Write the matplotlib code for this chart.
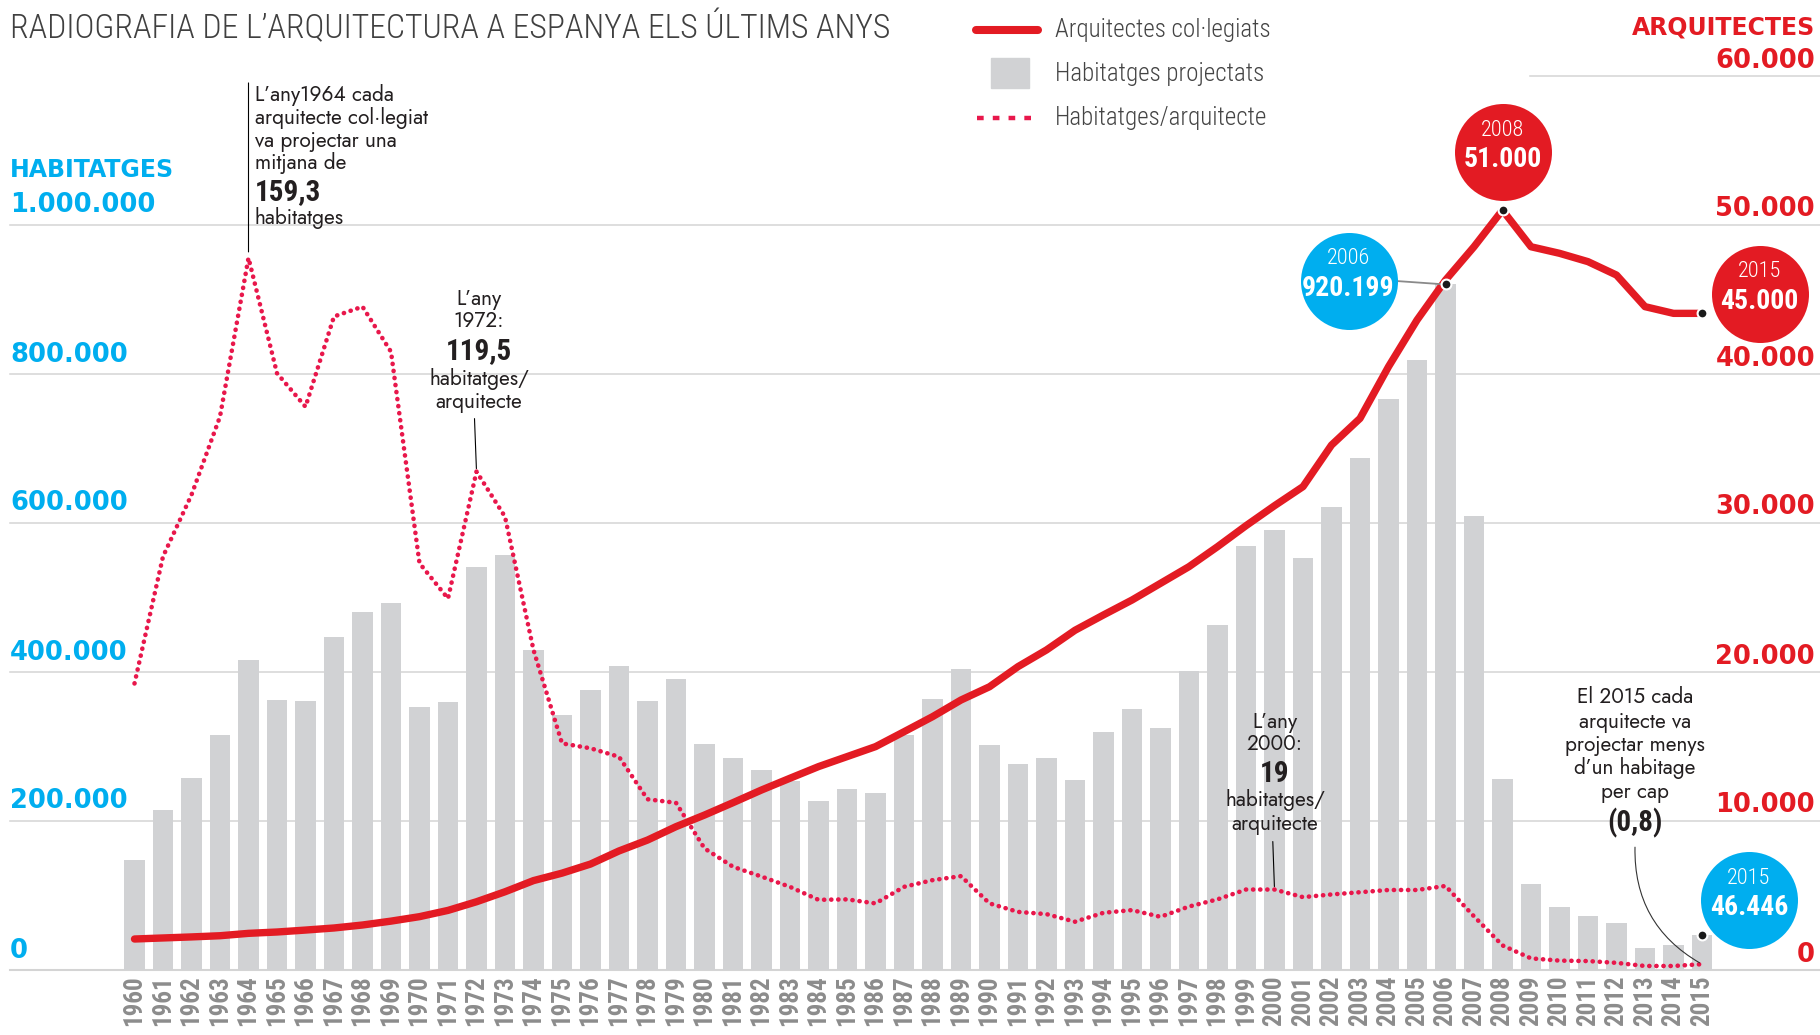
import matplotlib
matplotlib.use('Agg')
import matplotlib.pyplot as plt
from matplotlib.transforms import offset_copy

years = list(range(1960, 2016))
habitatges = [147000, 215000, 258000, 316000, 416000, 363000, 361000, 447000, 481000, 493000,
              353000, 360000, 541000, 557000, 429000, 342000, 376000, 408000, 361000, 391000,
              304000, 284000, 269000, 254000, 227000, 243000, 238000, 316000, 364000, 404000,
              302000, 277000, 284000, 255000, 319000, 351000, 325000, 402000, 463000, 569000,
              590000, 553000, 622000, 687000, 767000, 819000, 920199, 609000, 257000, 115000,
              85000, 72000, 63000, 29000, 34000, 46446]
arquitectes = [2080, 2150, 2220, 2300, 2460, 2550, 2680, 2820, 3020, 3280,
               3580, 4000, 4580, 5250, 6000, 6500, 7110, 7990, 8720, 9620,
               10400, 11230, 12080, 12870, 13650, 14320, 14990, 15990, 17000, 18120,
               19010, 20360, 21480, 22800, 23830, 24830, 25950, 27070, 28410, 29820,
               31160, 32440, 35230, 37020, 40490, 43620, 46300, 48540, 51000, 48540,
               48100, 47540, 46640, 44520, 44070, 44070]
per_arquitecte = [64.1, 92.5, 106.3, 123.8, 159.3, 133.5, 126.0, 146.2, 148.4, 138.3,
                  91.0, 83.1, 111.5, 101.4, 71.6, 50.7, 49.6, 47.7, 38.2, 37.4,
                  27.2, 23.1, 20.9, 18.6, 15.7, 15.8, 14.9, 18.6, 20.1, 21.0,
                  14.9, 13.0, 12.5, 10.8, 12.8, 13.4, 11.9, 14.2, 15.8, 18.0,
                  18.0, 16.3, 16.9, 17.4, 17.9, 17.9, 18.8, 12.0, 5.5, 2.6,
                  2.1, 2.0, 1.6, 0.9, 0.9, 1.3]

left_ticks = [0, 200000, 400000, 600000, 800000, 1000000]
left_labels = ['0', '200.000', '400.000', '600.000', '800.000', '1.000.000']
right_ticks = [0, 10000, 20000, 30000, 40000, 50000, 60000]
right_labels = ['0', '10.000', '20.000', '30.000', '40.000', '50.000', '60.000']

RED = '#e31b23'
PINK = '#e8174b'
CYAN = '#00aeef'
BAR = '#d1d2d4'
GRID = '#d4d4d4'
TXT = '#231f20'
COND = 'Roboto Condensed'
BOLD = 'DejaVu Sans'
BOOK = 'Jost'


def pt(px):
    # pixels to points at dpi 100
    return px * 0.72


fig = plt.figure(figsize=(18.2, 10.35), dpi=100)
ax = fig.add_axes([0, 65 / 1035, 1, 894 / 1035])
x0 = 1960 - 134.5 / 28.5
ax.set_xlim(x0, x0 + 1820 / 28.5)
ax.set_ylim(0, 1200000)
ax_r = ax.twinx()
ax_r.set_ylim(0, 200)
ax_a = ax.twinx()
ax_a.set_ylim(0, 60000)
for a in (ax, ax_r, ax_a):
    for s in a.spines.values():
        s.set_visible(False)
    a.set_yticks([])
ax.tick_params(axis='x', length=0, pad=pt(5))

# grid
for v in left_ticks[1:]:
    ax.axhline(v, xmin=10 / 1820, color=GRID, lw=1.1, zorder=0)
ax.axhline(1200000, xmin=1530 / 1820, color=GRID, lw=1.1, zorder=0, clip_on=False)
ax.axhline(0, xmin=10 / 1820, color=GRID, lw=1.5, zorder=0, clip_on=False)

ax.bar(years, habitatges, width=0.73, color=BAR, zorder=1)
ax.set_xticks(years)
ax.set_xticklabels([str(y) for y in years], rotation=90, va='top', ha='center',
                   fontsize=18, fontweight='bold', color='#8c8c8c', family=COND)

ax_a.plot(years, arquitectes, color=RED, lw=5.3, solid_joinstyle='round', solid_capstyle='round', zorder=3)
ax_r.plot(years, per_arquitecte, color=PINK, lw=3.3, linestyle=(0, (0.05, 1.5)),
          dash_capstyle='round', zorder=4)

# axis labels
ytr = ax.get_yaxis_transform()
for v, lab in zip(left_ticks, left_labels):
    ax_a.annotate(lab, xy=(10 / 1820, v), xycoords=ytr, xytext=(0, pt(19.5)), textcoords='offset points',
                  ha='left', va='center', color=CYAN, fontsize=18.5, fontweight='bold', family=BOLD)
ax_a.annotate('HABITATGES', xy=(10 / 1820, 1000000), xycoords=ytr, xytext=(0, pt(55)),
              textcoords='offset points', ha='left', va='center', color=CYAN, fontsize=17,
              fontweight='bold', family=BOLD)
ytr_a = ax_a.get_yaxis_transform()
for v, lab in zip(right_ticks, right_labels):
    ax_a.annotate(lab, xy=(1815 / 1820, v), xycoords=ytr_a, xytext=(0, pt(15.5)), textcoords='offset points',
                  ha='right', va='center', color=RED, fontsize=18.5, fontweight='bold', family=BOLD)
ax_a.annotate('ARQUITECTES', xy=(1815 / 1820, 60000), xycoords=ytr_a, xytext=(0, pt(48)),
              textcoords='offset points', ha='right', va='center', color=RED, fontsize=17,
              fontweight='bold', family=BOLD)

# title and legend
fig.text(10 / 1820, 1 - 28 / 1035, 'RADIOGRAFIA DE L’ARQUITECTURA A ESPANYA ELS ÚLTIMS ANYS',
         ha='left', va='center', fontsize=24.3, color='#404040', family=COND, fontweight='light')
fig.add_artist(plt.Line2D([976 / 1820, 1038 / 1820], [1 - 30 / 1035] * 2, color=RED, lw=5.8,
                          solid_capstyle='round'))
fig.add_artist(plt.Rectangle((991 / 1820, 1 - 88 / 1035), 38 / 1820, 30 / 1035, color=BAR))
fig.add_artist(plt.Line2D([977 / 1820, 1032 / 1820], [1 - 118 / 1035] * 2, color=PINK, lw=3.2,
                          linestyle=(0, (1.5, 2.05))))
for yy, lab in [(30, 'Arquitectes col·legiats'), (74, 'Habitatges projectats'), (118, 'Habitatges/arquitecte')]:
    fig.text(1055 / 1820, 1 - yy / 1035, lab, ha='left', va='center', fontsize=18, color='#444444',
             family=COND, fontweight='light')

# circles
circles = [(ax_a, 2008, arquitectes[48], 0, 58, RED, '2008', '51.000'),
           (ax, 2006, habitatges[46], -97, 3.5, CYAN, '2006', '920.199'),
           (ax_a, 2015, arquitectes[55], 57.5, 19.5, RED, '2015', '45.000'),
           (ax, 2015, habitatges[55], 47, 35, CYAN, '2015', '46.446')]
for a, xv, yv, dx, dy, col, top, val in circles:
    if col == CYAN and xv == 2006:
        ax_a.annotate('', xy=(xv, yv), xycoords=a.transData, xytext=(pt(dx + 47), pt(dy)),
                      textcoords='offset points',
                      arrowprops=dict(arrowstyle='-', color='#8a8a8a', lw=1.3, shrinkA=0, shrinkB=0))
    tr = offset_copy(a.transData, fig=fig, x=pt(dx), y=pt(dy), units='points')
    ax_a.scatter([xv], [yv], s=(pt(97)) ** 2, color=col, transform=tr, zorder=6, linewidths=0)
    ax_a.annotate(top, xy=(xv, yv), xycoords=a.transData, xytext=(pt(dx), pt(dy + 22)),
                  textcoords='offset points', ha='center', va='center', color='white', fontsize=16,
                  family=COND, fontweight='light', zorder=7)
    ax_a.annotate(val, xy=(xv, yv), xycoords=a.transData, xytext=(pt(dx), pt(dy - 7.5)),
                  textcoords='offset points', ha='center', va='center', color='white', fontsize=20,
                  family=COND, fontweight='bold', zorder=7)
    ax_a.scatter([xv], [yv], s=50, color='#1a1a1a', edgecolors='white', linewidths=1.5,
                 transform=a.transData, zorder=8)


def note(a, xv, yv, dx, lines, ha='center'):
    for dy, txt, bold in lines:
        ax_a.annotate(txt, xy=(xv, yv), xycoords=a.transData, xytext=(pt(dx), pt(dy)),
                      textcoords='offset points', ha=ha, va='center', color=TXT,
                      fontsize=21 if bold else 15, fontweight='bold' if bold else 'normal',
                      family=COND if bold else BOOK, zorder=7)


def stem(a, xv, yv, dx, top, bottom):
    ax_a.annotate('', xy=(xv, yv), xycoords=a.transData, xytext=(pt(dx), pt(top)),
                  textcoords='offset points',
                  arrowprops=dict(arrowstyle='-', color='black', lw=0.8,
                                  shrinkA=0, shrinkB=pt(bottom)))


note(ax_r, 1964, per_arquitecte[4], 6.5, [(163, 'L’any1964 cada', False), (140, 'arquitecte col·legiat', False),
                                          (117, 'va projectar una', False), (95, 'mitjana de', False),
                                          (66, '159,3', True), (40, 'habitatges', False)], ha='left')
stem(ax_r, 1964, per_arquitecte[4], 0, 175, 6)
note(ax_r, 1972, per_arquitecte[12], 2.5, [(173, 'L’any', False), (151, '1972:', False), (121, '119,5', True),
                                           (93, 'habitatges/', False), (70, 'arquitecte', False)])
stem(ax_r, 1972, per_arquitecte[12], -2, 53, 3)
note(ax_r, 2000, per_arquitecte[40], 0.5, [(168, 'L’any', False), (146, '2000:', False), (116, '19', True),
                                           (89.5, 'habitatges/', False), (65.5, 'arquitecte', False)])
stem(ax_r, 2000, per_arquitecte[40], -1.7, 48, 3)
note(ax_r, 2015, per_arquitecte[55], -67, [(267, 'El 2015 cada', False), (242.5, 'arquitecte va', False),
                                           (219, 'projectar menys', False), (196, 'd’un habitage', False),
                                           (172.5, 'per cap', False), (141, '(0,8)', True)])
ax_a.annotate('', xy=(2015, per_arquitecte[55]), xycoords=ax_r.transData, xytext=(pt(-67), pt(117)),
              textcoords='offset points',
              arrowprops=dict(arrowstyle='-', color='#333333', lw=0.8, shrinkA=0, shrinkB=2,
                              connectionstyle='arc3,rad=0.3'))

fig.savefig('out.png', dpi=100)
